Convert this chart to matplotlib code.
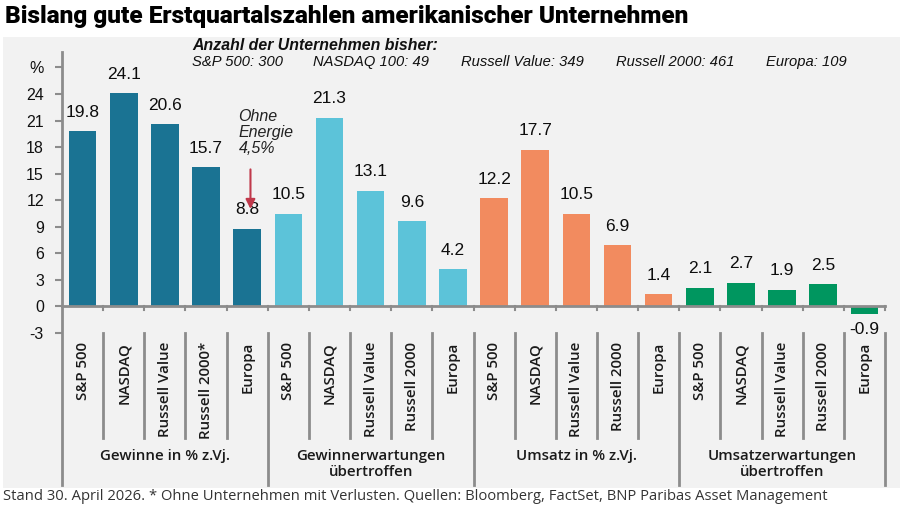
import matplotlib
matplotlib.use('Agg')
import matplotlib.pyplot as plt
from matplotlib.patches import Rectangle

# Daten
groups = ["Gewinne in % z.Vj.", "Gewinnerwartungen\nübertroffen",
          "Umsatz in % z.Vj.", "Umsatzerwartungen\nübertroffen"]
group_colors = ["#1a7393", "#5cc3d9", "#f28b5f", "#00965f"]
labels_gewinne = ["S&P 500", "NASDAQ", "Russell Value", "Russell 2000*", "Europa"]
labels_other = ["S&P 500", "NASDAQ", "Russell Value", "Russell 2000", "Europa"]
gewinne = [19.8, 24.1, 20.6, 15.7, 8.8]
gewinn_erw = [10.5, 21.3, 13.1, 9.6, 4.2]
umsatz = [12.2, 17.7, 10.5, 6.9, 1.4]
umsatz_erw = [2.1, 2.7, 1.9, 2.5, -0.9]
counts = ["S&P 500: 300", "NASDAQ 100: 49", "Russell Value: 349",
          "Russell 2000: 461", "Europa: 109"]
yticks = [-3, 0, 3, 6, 9, 12, 15, 18, 21, 24]

series = [gewinne, gewinn_erw, umsatz, umsatz_erw]
cat_labels = [labels_gewinne, labels_other, labels_other, labels_other]

W, H = 903, 508
fig = plt.figure(figsize=(W / 100, H / 100), dpi=100)
fig.patches.append(Rectangle((3 / W, 1 - 488 / H), 897 / W, 451 / H,
                             transform=fig.transFigure, facecolor="#f2f2f2",
                             edgecolor="none", zorder=-5))

ax = fig.add_axes([62 / W, 1 - 333 / H, 823 / W, 281 / H])
ax.set_facecolor("none")
ax.set_xlim(-0.5, 19.5)
ax.set_ylim(-3, 28.75)

axis_col = "#8c8c8c"
for s in ["top", "right", "bottom", "left"]:
    ax.spines[s].set_visible(False)

ybot = -20.2  # unterer Rand des Kategorienbereichs
ysep = -14.9
ax.plot([-0.5, -0.5], [28.75, ybot], color=axis_col, lw=2, clip_on=False, zorder=3)
ax.plot([-0.5, 19.5], [0, 0], color=axis_col, lw=2, clip_on=False, zorder=3)

x = 0
for g, vals in enumerate(series):
    for i, v in enumerate(vals):
        ax.bar(x, v, width=0.67, color=group_colors[g], zorder=2)
        if v >= 0:
            ax.text(x, v + 1.3, f"{v:.1f}", ha="center", va="bottom",
                    fontsize=12.5, family="Liberation Sans", color="#0d0d0d")
        else:
            ax.text(x, v - 0.9, f"{v:.1f}", ha="center", va="top",
                    fontsize=12.5, family="Liberation Sans", color="#0d0d0d",
                    zorder=4)
        ax.text(x, -4.0, cat_labels[g][i], rotation=90, ha="center", va="top",
                fontsize=10.8, weight="semibold", family="Open Sans",
                color="#1a1a1a", clip_on=False)
        # kleine Striche an der Nulllinie
        ax.plot([x + 0.5, x + 0.5], [0, -0.4], color=axis_col, lw=1.5,
                clip_on=False, zorder=3)
        if i < len(vals) - 1:
            ax.plot([x + 0.5, x + 0.5], [-3, ysep], color=axis_col, lw=2,
                    clip_on=False)
        else:
            ax.plot([x + 0.5, x + 0.5], [-3, ybot], color=axis_col, lw=2,
                    clip_on=False)
        x += 1
    ax.text(g * 5 + 2, -16.1, groups[g], ha="center", va="top", fontsize=10.8,
            weight="semibold", family="Open Sans", color="#1a1a1a",
            linespacing=1.2, clip_on=False)

# y-Achse
ax.set_yticks(yticks + [27])
ax.set_yticklabels([str(t) for t in yticks] + ["%"], fontsize=11.5,
                   family="Liberation Sans", color="#111")
ax.tick_params(axis="y", length=5, width=1.5, color=axis_col, pad=8)
ax.tick_params(axis="x", length=0, labelbottom=False)

# Anmerkung Energie
ax.annotate("", xy=(4.08, 10.7), xytext=(4.08, 15.8),
            arrowprops=dict(arrowstyle="-|>", color="#c0394b", lw=1.5,
                            mutation_scale=14), zorder=5)
ax.text(3.79, 22.3, "Ohne\nEnergie\n4,5%", ha="left", va="top", fontsize=11.5,
        style="italic", family="Liberation Sans", color="#222", linespacing=1.1)

# Anzahl der Unternehmen
fig.text(192 / W, 1 - 45 / H, "Anzahl der Unternehmen bisher:", ha="left",
         va="center", fontsize=11.4, style="italic", weight="bold",
         family="Liberation Sans", color="#111")
count_x = [192, 313, 461, 616, 766]
for cx, c in zip(count_x, counts):
    fig.text(cx / W, 1 - 62 / H, c, ha="left", va="center", fontsize=10.6,
             style="italic", family="Liberation Sans", color="#111")

fig.text(5 / W, 1 - 16 / H, "Bislang gute Erstquartalszahlen amerikanischer Unternehmen",
         ha="left", va="center", fontsize=17.6, weight="heavy", family="Roboto",
         color="black")
fig.text(3 / W, 1 - 497 / H,
         "Stand 30. April 2026. * Ohne Unternehmen mit Verlusten. Quellen: Bloomberg, "
         "FactSet, BNP Paribas Asset Management",
         ha="left", va="center", fontsize=10.6, family="Open Sans", color="#333")

fig.savefig("out.png", dpi=100)
